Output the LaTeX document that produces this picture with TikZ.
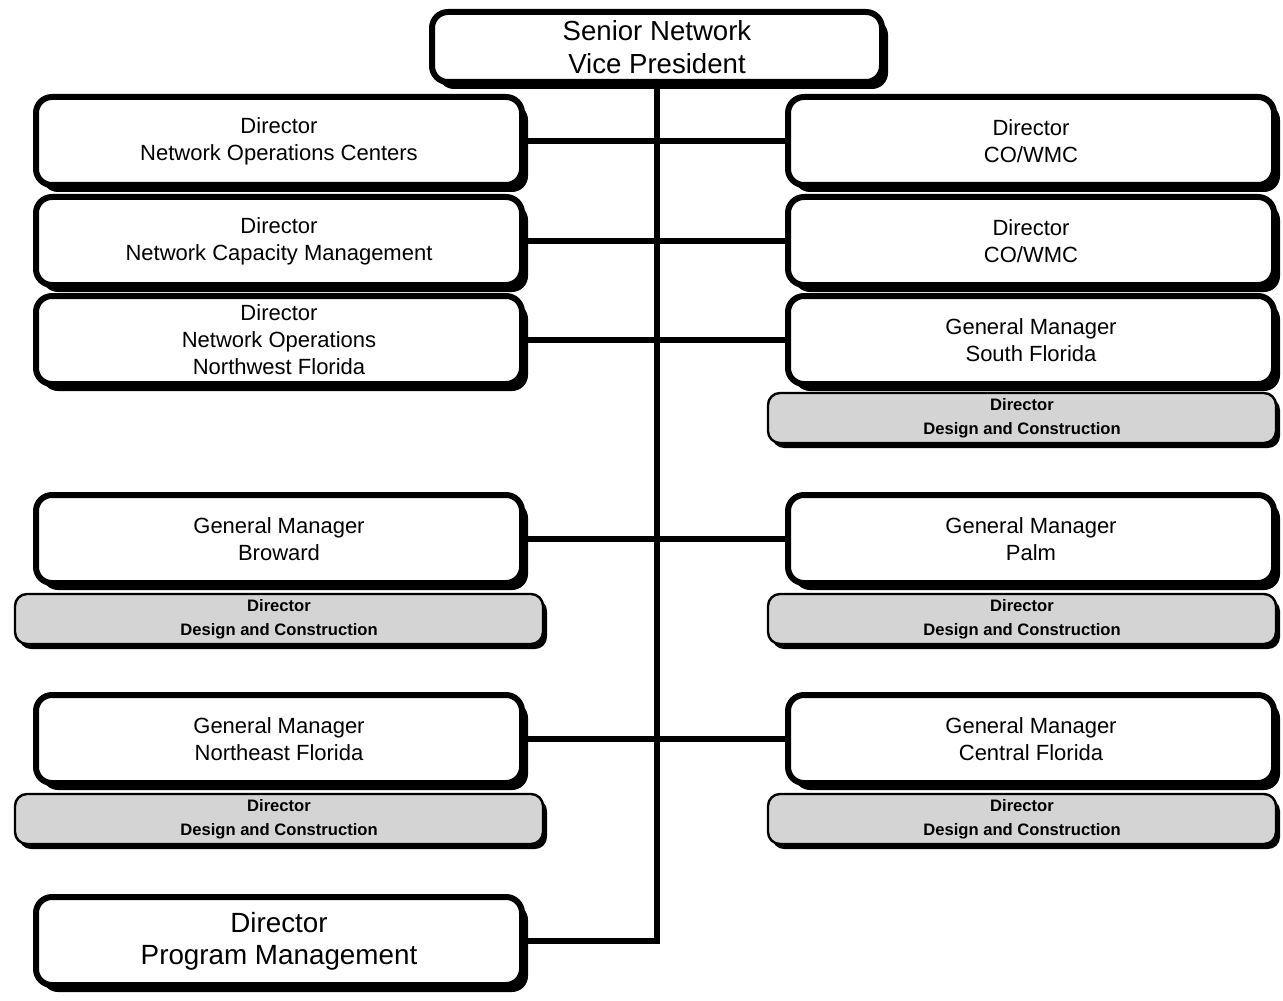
\documentclass[tikz,border=0pt]{standalone}
\usepackage{fontspec}
\setmainfont{Liberation Sans}
\usetikzlibrary{shadows}

\begin{document}
\begin{tikzpicture}[x=0.5pt, y=-0.5pt,
  box/.style={draw, line width=3pt, rounded corners=8pt, fill=white, align=center,
    drop shadow={shadow xshift=3pt, shadow yshift=-3.5pt, fill=black, opacity=1}},
  vpbox/.style={box, minimum width=225pt, minimum height=35pt, font={\fontsize{13.8}{16.5}\selectfont}},
  dirbox/.style={box, minimum width=243pt, minimum height=44pt, font={\fontsize{11}{13.5}\selectfont}},
  pmbox/.style={box, minimum width=243pt, minimum height=44pt, font={\fontsize{13.9}{16}\selectfont}},
  dcbar/.style={draw, line width=1.2pt, rounded corners=6pt, fill=black!17, align=center,
    minimum height=25pt, inner sep=1pt, font={\bfseries\fontsize{8.3}{12}\selectfont},
    drop shadow={shadow xshift=2pt, shadow yshift=-2.5pt, fill=black, opacity=1}},
  conn/.style={line width=2.8pt}]
\useasboundingbox (0,0) rectangle (1283,1000);

\path
(657,47)    node[vpbox] (vp) {Senior Network\\ Vice President}
(279,141)   node[dirbox] (noc) {Director\\ Network Operations Centers}
(279,241)   node[dirbox] (ncm) {Director\\ Network Capacity Management}
(279,340)   node[dirbox] (nwf) {Director\\ Network Operations\\ Northwest Florida}
(1031,141)  node[dirbox] (cowmc1) {Director\\ CO/WMC}
(1031,241)  node[dirbox] (cowmc2) {Director\\ CO/WMC}
(1031,340)  node[dirbox] (sfl) {General Manager\\ South Florida}
(1022,418)  node[dcbar, minimum width=254pt] (sfldc) {Director\\ Design and Construction}

(279,539)   node[dirbox] (brw) {General Manager\\ Broward}
(279,619)   node[dcbar, minimum width=264pt] (brwdc) {Director\\ Design and Construction}
(1031,539)  node[dirbox] (palm) {General Manager\\ Palm}
(1022,619)  node[dcbar, minimum width=254pt] (palmdc) {Director\\ Design and Construction}

(279,739)   node[dirbox] (nef) {General Manager\\ Northeast Florida}
(279,819)   node[dcbar, minimum width=264pt] (nefdc) {Director\\ Design and Construction}
(1031,739)  node[dirbox] (cfl) {General Manager\\ Central Florida}
(1022,819)  node[dcbar, minimum width=254pt] (cfldc) {Director\\ Design and Construction}

(279,941)   node[pmbox] (pm) {Director\\ Program Management};

\draw[conn] (vp.south) |- (pm.east);
\draw[conn] (noc.east) -- (cowmc1.west);
\draw[conn] (ncm.east) -- (cowmc2.west);
\draw[conn] (nwf.east) -- (sfl.west);
\draw[conn] (brw.east) -- (palm.west);
\draw[conn] (nef.east) -- (cfl.west);
\end{tikzpicture}
\end{document}
